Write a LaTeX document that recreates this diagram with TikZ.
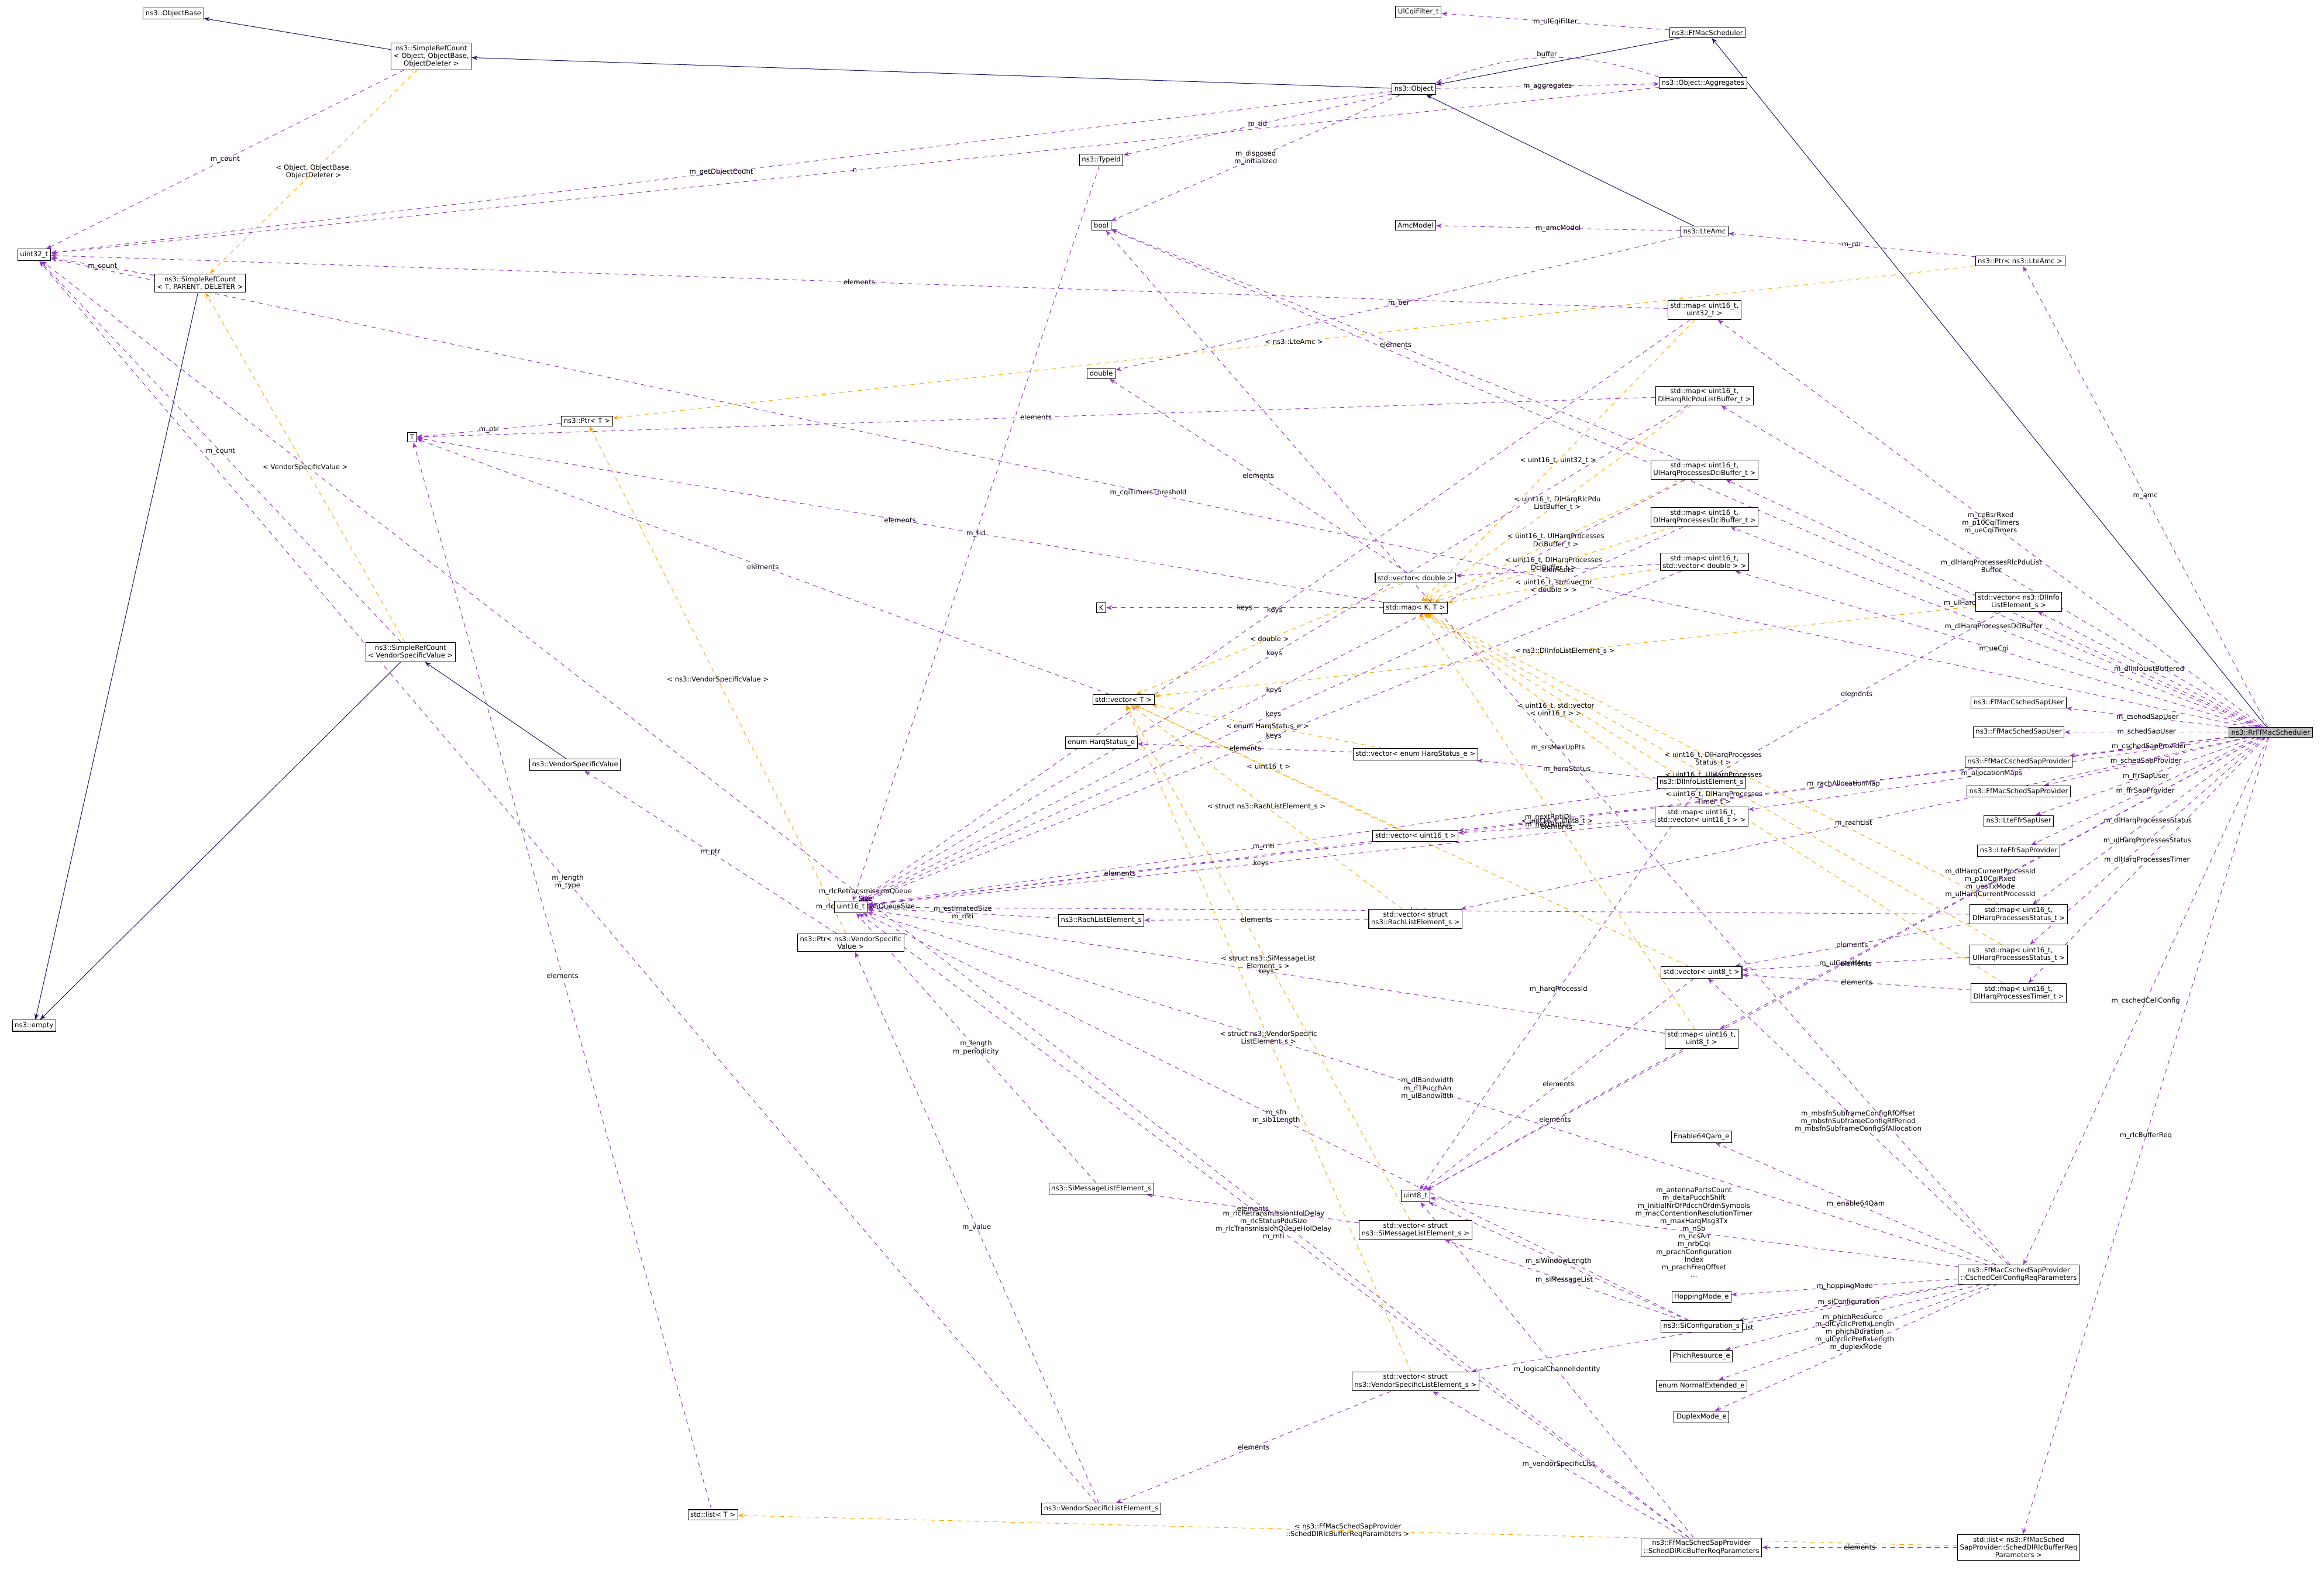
\documentclass[tikz,border=0pt]{standalone}
\usepackage{fontspec}
\setmainfont{DejaVu Sans}
\usetikzlibrary{arrows.meta,backgrounds}
\definecolor{memcol}{HTML}{9A32CD}
\definecolor{tplcol}{HTML}{FFA500}
\definecolor{inhcol}{HTML}{191970}
\tikzset{
  box/.style={draw, fill=white, font=\fontsize{4.6}{5.2}\selectfont, inner sep=1.6pt, align=center},
  lbl/.style={font=\fontsize{4.6}{5.2}\selectfont, align=center, inner sep=0.5pt},
  mem/.style={draw=memcol, dashed, -{Stealth[length=4pt,width=3pt]}},
  tpl/.style={draw=tplcol, dashed, -{Stealth[length=4pt,width=3pt]}},
  inh/.style={draw=inhcol, -{Stealth[length=4pt,width=3pt]}},
}
\newcommand{\mem}[3]{\draw[mem] (#1) -- node[lbl]{#3} (#2);}
\newcommand{\tpl}[3]{\draw[tpl] (#1) -- node[lbl]{#3} (#2);}
\begin{document}
\begin{tikzpicture}[x=1pt,y=-1pt]
\useasboundingbox (0,0) rectangle (1568,1064);
% left column
\node[box] (objbase) at (117,9) {ns3::ObjectBase};
\node[box] (src1) at (291,38) {ns3::SimpleRefCount\\< Object, ObjectBase,\\ObjectDeleter >};
\node[box] (u32) at (23,172) {uint32\_t};
\node[box] (srct) at (135,191) {ns3::SimpleRefCount\\< T, PARENT, DELETER >};
\node[box] (empty) at (23,692) {ns3::empty};
\node[box] (t) at (278,295) {T};
\node[box] (ptrt) at (396,284) {ns3::Ptr< T >};
\node[box] (srcv) at (277,440) {ns3::SimpleRefCount\\< VendorSpecificValue >};
\node[box] (vsv) at (388,516) {ns3::VendorSpecificValue};
\node[box] (u16) at (574,612) {uint16\_t};
\node[box] (ptrv) at (574,636) {ns3::Ptr< ns3::VendorSpecific\\Value >};
\node[box] (listt) at (481,1022) {std::list< T >};
% middle column
\node[box] (cqif) at (957,8) {UlCqiFilter\_t};
\node[box] (object) at (954,60) {ns3::Object};
\node[box] (typeid) at (743,108) {ns3::TypeId};
\node[box] (bool) at (743,152) {bool};
\node[box] (amcm) at (955,152) {AmcModel};
\node[box] (double) at (743,252) {double};
\node[box] (k) at (743,410) {K};
\node[box] (vecdbl) at (955,390) {std::vector< double >};
\node[box] (mapkt) at (955,410) {std::map< K, T >};
\node[box] (vect) at (758,472) {std::vector< T >};
\node[box] (harqe) at (743,501) {enum HarqStatus\_e};
\node[box] (vecharq) at (955,509) {std::vector< enum HarqStatus\_e >};
\node[box] (vecu16) at (955,564) {std::vector< uint16\_t >};
\node[box] (rach) at (743,621) {ns3::RachListElement\_s};
\node[box] (vecrach) at (955,620) {std::vector< struct\\ns3::RachListElement\_s >};
\node[box] (simsg) at (743,802) {ns3::SiMessageListElement\_s};
\node[box] (u8) at (955,807) {uint8\_t};
\node[box] (vecsi) at (955,830) {std::vector< struct\\ns3::SiMessageListElement\_s >};
\node[box] (vecvs) at (955,932) {std::vector< struct\\ns3::VendorSpecificListElement\_s >};
\node[box] (vsle) at (743,1018) {ns3::VendorSpecificListElement\_s};
% right-middle column
\node[box] (ffsch) at (1152,22) {ns3::FfMacScheduler};
\node[box] (aggr) at (1149,56) {ns3::Object::Aggregates};
\node[box] (lteamc) at (1150,156) {ns3::LteAmc};
\node[box] (mapu32) at (1150,209) {std::map< uint16\_t,\\uint32\_t >};
\node[box] (maprlc) at (1150,267) {std::map< uint16\_t,\\DlHarqRlcPduListBuffer\_t >};
\node[box] (mapuldci) at (1150,317) {std::map< uint16\_t,\\UlHarqProcessesDciBuffer\_t >};
\node[box] (mapdldci) at (1150,349) {std::map< uint16\_t,\\DlHarqProcessesDciBuffer\_t >};
\node[box] (mapvdbl) at (1150,379) {std::map< uint16\_t,\\std::vector< double > >};
\node[box] (dlinfo) at (1148,528) {ns3::DlInfoListElement\_s};
\node[box] (mapvu16) at (1148,551) {std::map< uint16\_t,\\std::vector< uint16\_t > >};
\node[box] (vecu8) at (1148,656) {std::vector< uint8\_t >};
\node[box] (mapu8) at (1148,701) {std::map< uint16\_t,\\uint8\_t >};
\node[box] (qam) at (1148,767) {Enable64Qam\_e};
\node[box] (hop) at (1148,875) {HoppingMode\_e};
\node[box] (sicfg) at (1148,895) {ns3::SiConfiguration\_s};
\node[box] (phich) at (1148,915) {PhichResource\_e};
\node[box] (normext) at (1148,935) {enum NormalExtended\_e};
\node[box] (duplex) at (1148,956) {DuplexMode\_e};
\node[box] (rlcreq) at (1148,1044) {ns3::FfMacSchedSapProvider\\::SchedDlRlcBufferReqParameters};
% right column
\node[box] (ptramc) at (1363,176) {ns3::Ptr< ns3::LteAmc >};
\node[box] (vecdl) at (1362,406) {std::vector< ns3::DlInfo\\ListElement\_s >};
\node[box] (csu) at (1362,474) {ns3::FfMacCschedSapUser};
\node[box] (ssu) at (1362,494) {ns3::FfMacSchedSapUser};
\node[box] (csp) at (1362,514) {ns3::FfMacCschedSapProvider};
\node[box] (ssp) at (1362,534) {ns3::FfMacSchedSapProvider};
\node[box] (ffru) at (1362,554) {ns3::LteFfrSapUser};
\node[box] (ffrp) at (1362,574) {ns3::LteFfrSapProvider};
\node[box] (mapdls) at (1362,617) {std::map< uint16\_t,\\DlHarqProcessesStatus\_t >};
\node[box] (mapuls) at (1362,644) {std::map< uint16\_t,\\UlHarqProcessesStatus\_t >};
\node[box] (maptim) at (1362,670) {std::map< uint16\_t,\\DlHarqProcessesTimer\_t >};
\node[box] (cell) at (1362,860) {ns3::FfMacCschedSapProvider\\::CschedCellConfigReqParameters};
\node[box] (listrlc) at (1362,1044) {std::list< ns3::FfMacSched\\SapProvider::SchedDlRlcBufferReq\\Parameters >};
\node[box, fill=black!25] (rr) at (1532,494) {ns3::RrFfMacScheduler};
\begin{pgfonlayer}{background}
% inheritance
\draw[inh] (src1) -- (objbase);
\draw[inh] (object) -- (src1);
\draw[inh] (ffsch) -- (object);
\draw[inh] (lteamc) -- (object);
\draw[inh] (rr) -- (ffsch);
\draw[inh] (srct) -- (empty);
\draw[inh] (srcv) -- (empty);
\draw[inh] (vsv) -- (srcv);
% templates
\tpl{src1}{srct}{< Object, ObjectBase,\\ObjectDeleter >}
\tpl{srcv}{srct}{< VendorSpecificValue >}
\tpl{ptramc}{ptrt}{< ns3::LteAmc >}
\tpl{ptrv}{ptrt}{< ns3::VendorSpecificValue >}
\tpl{mapu32}{mapkt}{< uint16\_t, uint32\_t >}
\tpl{maprlc}{mapkt}{< uint16\_t, DlHarqRlcPdu\\ListBuffer\_t >}
\tpl{mapuldci}{mapkt}{< uint16\_t, UlHarqProcesses\\DciBuffer\_t >}
\tpl{mapdldci}{mapkt}{< uint16\_t, DlHarqProcesses\\DciBuffer\_t >}
\tpl{mapvdbl}{mapkt}{< uint16\_t, std::vector\\< double > >}
\tpl{mapdls}{mapkt}{< uint16\_t, DlHarqProcesses\\Status\_t >}
\tpl{mapuls}{mapkt}{< uint16\_t, UlHarqProcesses\\Status\_t >}
\tpl{mapvu16}{mapkt}{< uint16\_t, std::vector\\< uint16\_t > >}
\tpl{maptim}{mapkt}{< uint16\_t, DlHarqProcesses\\Timer\_t >}
\tpl{mapu8}{mapkt}{< uint16\_t, uint8\_t >}
\tpl{vecdbl}{vect}{< double >}
\tpl{vecdl}{vect}{< ns3::DlInfoListElement\_s >}
\tpl{vecharq}{vect}{< enum HarqStatus\_e >}
\tpl{vecu16}{vect}{< uint16\_t >}
\tpl{vecrach}{vect}{< struct ns3::RachListElement\_s >}
\tpl{vecu8}{vect}{< uint8\_t >}
\tpl{vecsi}{vect}{< struct ns3::SiMessageList\\Element\_s >}
\tpl{vecvs}{vect}{< struct ns3::VendorSpecific\\ListElement\_s >}
\tpl{listrlc}{listt}{< ns3::FfMacSchedSapProvider\\::SchedDlRlcBufferReqParameters >}
% members
\mem{src1}{u32}{m\_count}
\mem{srct}{u32}{m\_count}
\mem{srcv}{u32}{m\_count}
\mem{object}{u32}{m\_getObjectCount}
\mem{object}{typeid}{m\_tid}
\mem{object}{bool}{m\_disposed\\m\_initialized}
\mem{object}{aggr}{m\_aggregates}
\draw[mem] (aggr.north west) to[bend right=20] node[lbl,above]{buffer} (object.north east);
\mem{aggr}{u32}{n}
\mem{ffsch}{cqif}{m\_ulCqiFilter}
\mem{typeid}{u16}{m\_tid}
\mem{lteamc}{amcm}{m\_amcModel}
\mem{lteamc}{double}{m\_ber}
\mem{ptramc}{lteamc}{m\_ptr}
\mem{ptrt}{t}{m\_ptr}
\mem{ptrv}{vsv}{m\_ptr}
\mem{vect}{t}{elements}
\mem{mapkt}{k}{keys}
\mem{mapkt}{t}{elements}
\mem{vecdbl}{double}{elements}
\mem{mapu32}{u32}{elements}
\mem{mapu32}{u16}{keys}
\mem{maprlc}{u16}{keys}
\mem{maprlc}{t}{elements}
\mem{mapuldci}{u16}{keys}
\mem{mapuldci}{bool}{elements}
\mem{mapdldci}{u16}{keys}
\mem{mapvdbl}{u16}{keys}
\mem{mapvdbl}{vecdbl}{elements}
\mem{vecdl}{dlinfo}{elements}
\mem{vecharq}{harqe}{elements}
\mem{dlinfo}{vecharq}{m\_harqStatus}
\mem{dlinfo}{u16}{m\_rnti}
\mem{dlinfo}{u8}{m\_harqProcessId}
\mem{vecu16}{u16}{elements}
\mem{mapvu16}{vecu16}{elements}
\mem{mapvu16}{u16}{keys}
\mem{rach}{u16}{m\_estimatedSize\\m\_rnti}
\mem{vecrach}{rach}{elements}
\mem{mapdls}{vecu8}{elements}
\mem{mapuls}{vecu8}{elements}
\mem{maptim}{vecu8}{elements}
\mem{mapdls}{u16}{keys}
\mem{vecu8}{u8}{elements}
\mem{mapu8}{u8}{elements}
\mem{mapu8}{u16}{keys}
\mem{simsg}{u16}{m\_length\\m\_periodicity}
\mem{vecsi}{simsg}{elements}
\mem{sicfg}{vecsi}{m\_siMessageList}
\mem{sicfg}{u8}{m\_siWindowLength}
\mem{sicfg}{u16}{m\_sfn\\m\_sib1Length}
\mem{vecvs}{vsle}{elements}
\mem{vsle}{u32}{m\_length\\m\_type}
\mem{vsle}{ptrv}{m\_value}
\mem{listt}{t}{elements}
\mem{rlcreq}{u16}{m\_rlcRetransmissionHolDelay\\m\_rlcStatusPduSize\\m\_rlcTransmissionQueueHolDelay\\m\_rnti}
\mem{rlcreq}{u32}{m\_rlcRetransmissionQueue\\Size\\m\_rlcTransmissionQueueSize}
\mem{rlcreq}{u8}{m\_logicalChannelIdentity}
\mem{rlcreq}{vecvs}{m\_vendorSpecificList}
\mem{listrlc}{rlcreq}{elements}
\mem{cell}{vecu8}{m\_mbsfnSubframeConfigRfOffset\\m\_mbsfnSubframeConfigRfPeriod\\m\_mbsfnSubframeConfigSfAllocation}
\mem{cell}{u8}{m\_antennaPortsCount\\m\_deltaPucchShift\\m\_initialNrOfPdcchOfdmSymbols\\m\_macContentionResolutionTimer\\m\_maxHarqMsg3Tx\\m\_nSb\\m\_ncsAn\\m\_nrbCqi\\m\_prachConfiguration\\Index\\m\_prachFreqOffset\\...}
\mem{cell}{u16}{m\_dlBandwidth\\m\_n1PucchAn\\m\_ulBandwidth}
\mem{cell}{bool}{m\_srsMaxUpPts}
\mem{cell}{qam}{m\_enable64Qam}
\mem{cell}{hop}{m\_hoppingMode}
\mem{cell}{sicfg}{m\_siConfiguration}
\mem{cell}{phich}{m\_phichResource}
\mem{cell}{normext}{m\_dlCyclicPrefixLength\\m\_phichDuration\\m\_ulCyclicPrefixLength}
\mem{cell}{duplex}{m\_duplexMode}
\mem{cell}{vecvs}{m\_vendorSpecificList}
% scheduler members
\mem{rr}{u32}{m\_cqiTimersThreshold}
\mem{rr}{bool}{m\_harqOn}
\mem{rr}{ptramc}{m\_amc}
\mem{rr}{mapu32}{m\_ceBsrRxed\\m\_p10CqiTimers\\m\_ueCqiTimers}
\mem{rr}{maprlc}{m\_dlHarqProcessesRlcPduList\\Buffer}
\mem{rr}{mapuldci}{m\_ulHarqProcessesDciBuffer}
\mem{rr}{mapdldci}{m\_dlHarqProcessesDciBuffer}
\mem{rr}{mapvdbl}{m\_ueCqi}
\mem{rr}{vecdl}{m\_dlInfoListBuffered}
\mem{rr}{mapvu16}{m\_allocationMaps}
\mem{rr}{vecu16}{m\_rachAllocationMap}
\mem{rr}{csu}{m\_cschedSapUser}
\mem{rr}{ssu}{m\_schedSapUser}
\mem{rr}{csp}{m\_cschedSapProvider}
\mem{rr}{ssp}{m\_schedSapProvider}
\mem{rr}{ffru}{m\_ffrSapUser}
\mem{rr}{ffrp}{m\_ffrSapProvider}
\mem{rr}{vecrach}{m\_rachList}
\mem{rr}{mapdls}{m\_dlHarqProcessesStatus}
\mem{rr}{mapuls}{m\_ulHarqProcessesStatus}
\mem{rr}{maptim}{m\_dlHarqProcessesTimer}
\mem{rr}{mapu8}{m\_dlHarqCurrentProcessId\\m\_p10CqiRxed\\m\_uesTxMode\\m\_ulHarqCurrentProcessId}
\mem{rr}{cell}{m\_cschedCellConfig}
\mem{rr}{u8}{m\_ulGrantMcs}
\mem{rr}{u16}{m\_nextRntiDl\\m\_nextRntiUl}
\mem{rr}{listrlc}{m\_rlcBufferReq}
\end{pgfonlayer}
\end{tikzpicture}
\end{document}
